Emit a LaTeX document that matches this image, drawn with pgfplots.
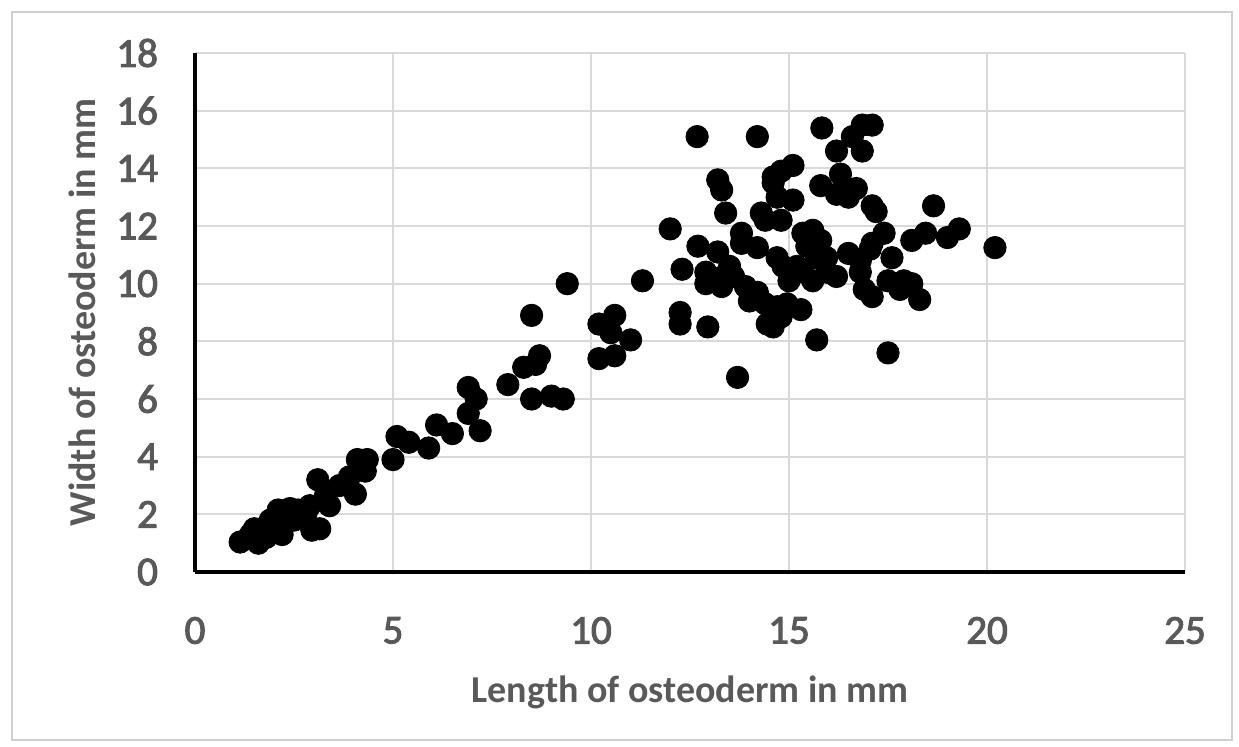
\documentclass[border=0pt]{standalone}
\usepackage{pgfplots}
\pgfplotsset{compat=1.18}
\usepackage{fontspec}
\setmainfont{Carlito}
\newfontfamily\semib{Carlito}[FakeBold=2.5]
\definecolor{txt}{HTML}{595959}
\definecolor{grd}{HTML}{D9D9D9}
\definecolor{frm}{HTML}{D0D0D0}
\begin{document}
\begin{tikzpicture}
\begin{axis}[
  name=ax,
  scale only axis,
  width=495pt, height=259.5pt,
  xmin=0, xmax=25, ymin=0, ymax=18,
  xtick={0,5,...,25}, ytick={0,2,...,18},
  axis x line=bottom, axis y line=left,
  axis line style={-, line width=2pt, black},
  grid=major,
  major grid style={grd, line width=1pt},
  major tick length=0pt,
  /pgf/number format/assume math mode=true,
  tick label style={font=\semib\fontsize{20.5}{22}\selectfont, text=txt},
  xticklabel style={yshift=-19pt},
  yticklabel style={xshift=-15pt},
  xlabel={\textbf{Length of osteoderm in mm}},
  ylabel={\textbf{Width of osteoderm in mm}},
  label style={font=\fontsize{19}{21}\selectfont, text=txt},
  xlabel style={at={(axis description cs:0.5,0)}, anchor=center, yshift=-60pt},
  ylabel style={at={(axis description cs:0,0.5)}, anchor=center, yshift=56.5pt},
  clip=false,
]
\addplot[only marks, mark=*, mark size=5.6pt, black] table {
x y
1.14 1.04
1.4 1.3
1.6 1.0
1.5 1.5
1.7 1.5
1.9 1.8
2.1 2.15
2.2 1.3
2.0 1.6
2.4 2.2
2.6 2.15
2.8 2.0
2.5 1.8
2.95 1.45
3.15 1.5
3.1 3.2
3.4 2.3
3.65 3.0
3.9 3.3
4.05 2.7
4.1 3.9
4.3 3.5
4.35 3.9
3.3 2.7
2.9 2.3
1.8 1.2
2.3 2.0
5.0 3.9
5.1 4.7
5.4 4.5
5.9 4.3
6.1 5.1
6.5 4.8
6.9 6.4
7.1 6.0
6.9 5.5
7.2 4.9
7.9 6.5
8.3 7.1
8.5 6.0
8.6 7.2
8.7 7.5
8.5 8.9
9.0 6.1
9.3 6.0
9.4 10.0
10.2 8.6
10.6 8.9
11.0 8.05
10.2 7.4
10.6 7.5
10.5 8.3
11.3 10.1
12.68 15.1
14.2 15.1
15.83 15.4
16.85 15.5
17.1 15.5
16.6 15.1
16.2 14.6
16.85 14.6
13.2 13.6
13.3 13.25
15.1 14.1
14.8 13.9
14.6 13.7
14.6 13.5
15.1 12.9
14.7 13.0
15.8 13.4
16.3 13.8
16.4 13.35
16.7 13.3
16.5 13.0
16.2 13.1
17.1 12.7
17.2 12.5
18.65 12.7
13.4 12.45
14.3 12.45
14.4 12.2
14.8 12.2
12.0 11.9
12.7 11.3
13.2 11.1
13.8 11.75
13.8 11.4
14.2 11.25
12.3 10.5
12.9 10.4
12.9 10.0
13.25 10.2
13.5 10.6
13.6 10.25
13.3 9.9
13.9 9.9
14.2 9.7
14.0 9.4
14.4 9.3
14.7 9.2
14.95 9.3
15.3 9.1
14.45 8.6
14.6 8.5
14.8 8.85
12.25 9.0
12.25 8.6
12.95 8.5
15.7 8.05
17.5 7.6
13.7 6.75
14.7 10.9
14.85 10.6
15.0 10.1
15.35 11.75
15.6 11.85
15.8 11.5
15.45 11.3
15.7 10.9
15.2 10.6
15.35 10.4
15.6 10.1
15.95 10.4
16.2 10.25
15.95 10.9
16.5 11.05
16.8 10.8
17.05 11.2
17.4 11.75
17.1 11.4
16.8 10.4
16.9 9.8
17.1 9.55
17.5 10.1
17.6 10.9
17.9 10.1
17.8 9.8
18.1 10.0
18.3 9.45
18.1 11.5
18.45 11.75
19.0 11.6
19.3 11.9
20.2 11.25
};
\end{axis}
\draw[frm, line width=1pt] ([xshift=-91.5pt,yshift=20.5pt]ax.north west) rectangle ([xshift=23.5pt,yshift=-84pt]ax.south east);
\useasboundingbox ([xshift=-97.5pt,yshift=26.5pt]ax.north west) rectangle ([xshift=27pt,yshift=-87pt]ax.south east);
\end{tikzpicture}
\end{document}
